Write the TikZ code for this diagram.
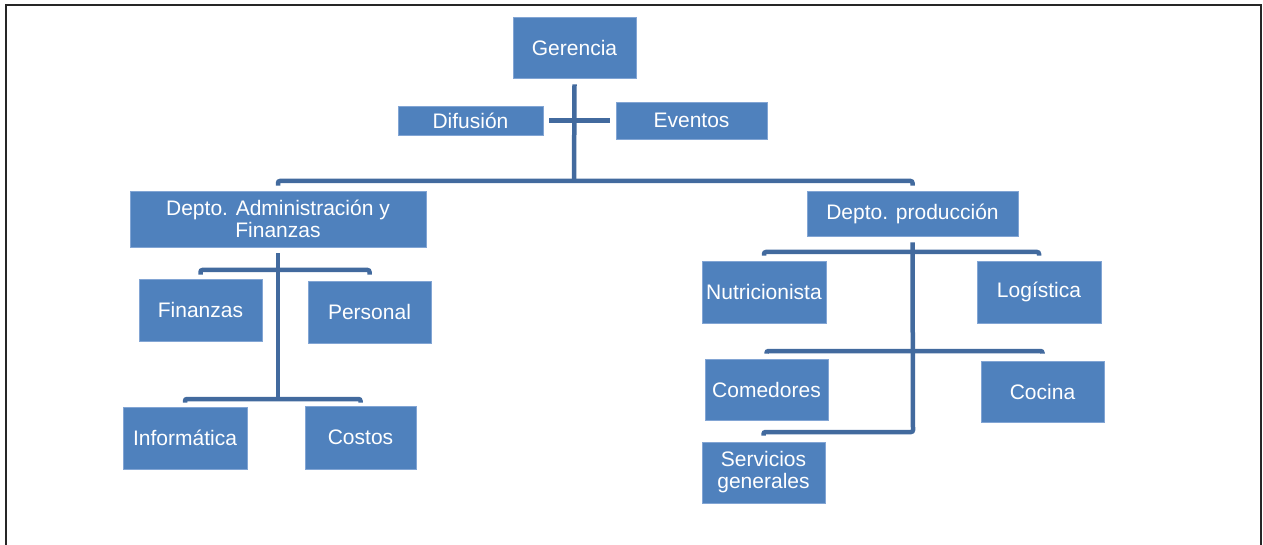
\documentclass[tikz,border=0pt]{standalone}
\usepackage{fontspec}
\setmainfont{Liberation Sans}

\definecolor{boxblue}{RGB}{79,129,189}
\definecolor{boxedge}{RGB}{130,165,212}
\definecolor{linkblue}{RGB}{66,106,158}

\tikzset{
	box/.style={fill=boxblue,draw=boxedge,line width=0.8pt,text=white,inner sep=0pt,align=center,font=\fontsize{21}{22}\selectfont},
	conn/.style={draw=linkblue,line width=4.5pt,rounded corners=2pt}
}

\begin{document}
\begin{tikzpicture}[x=1pt,y=-1pt]
			\useasboundingbox (0,0) rectangle (1263,545);
			\draw[line width=2pt,draw=black!85] (6,545) -- (6,5) -- (1261,5) -- (1261,545);

			\node[box,minimum width=123pt,minimum height=61pt] (ger) at (574.5,47.5) {Gerencia};
			\node[box,minimum width=145pt,minimum height=29pt] (dif) at (470.5,120.5) {Difusión};
			\node[box,minimum width=151pt,minimum height=37pt] (eve) at (691.5,120.5) {Eventos};

			\node[box,minimum width=296pt,minimum height=56pt] (adm) at (278,219) {Depto. Administración y\\Finanzas};
			\node[box,minimum width=123pt,minimum height=62pt] (fin) at (200.5,310) {Finanzas};
			\node[box,minimum width=123pt,minimum height=62pt] (per) at (369.5,312) {Personal};
			\node[box,minimum width=124pt,minimum height=62pt] (inf) at (185,438) {Informática};
			\node[box,minimum width=111pt,minimum height=63pt] (cos) at (360.5,437.5) {Costos};

			\node[box,minimum width=211pt,minimum height=45pt] (prod) at (912.5,213.5) {Depto. producción};
			\node[box,minimum width=124pt,minimum height=62pt] (nut) at (764,292) {Nutricionista};
			\node[box,minimum width=124pt,minimum height=62pt] (log) at (1039,292) {Logística};
			\node[box,minimum width=123pt,minimum height=61pt] (com) at (766.5,389.5) {Comedores};
			\node[box,minimum width=123pt,minimum height=61pt] (coc) at (1042.5,391.5) {Cocina};
			\node[box,minimum width=123pt,minimum height=61pt] (serv) at (763.5,472.5) {Servicios\\generales};

			\coordinate (g1) at (574,181);
			\coordinate (a1) at (278,270);
			\coordinate (a2) at (278,399);
			\coordinate (p1) at (913,252);
			\coordinate (p2) at (913,351);
			\coordinate (p3) at (913,432);

			\draw[conn] ([yshift=-6pt]ger.south) -- ([yshift=-1pt]g1);
			\draw[conn] ([xshift=6pt]dif.east) -- ([xshift=-6pt]eve.west);
			\draw[conn] ([yshift=5pt]adm.north) |- (g1) -| ([yshift=5pt]prod.north);

			\draw[conn] ([yshift=-6pt]adm.south) -- (a2);
			\draw[conn] ([yshift=4pt]fin.north) |- (a1) -| ([yshift=6pt]per.north);
			\draw[conn] ([yshift=4pt]inf.north) |- (a2) -| ([yshift=3pt]cos.north);

			\draw[conn] ([yshift=-6pt]prod.south) -- (p3) -| ([yshift=6pt]serv.north);
			\draw[conn] ([yshift=5pt]nut.north) |- (p1) -| ([yshift=5pt]log.north);
			\draw[conn] ([yshift=5pt]com.north) |- (p2) -| ([yshift=7pt]coc.north);
		\end{tikzpicture}
\end{document}
